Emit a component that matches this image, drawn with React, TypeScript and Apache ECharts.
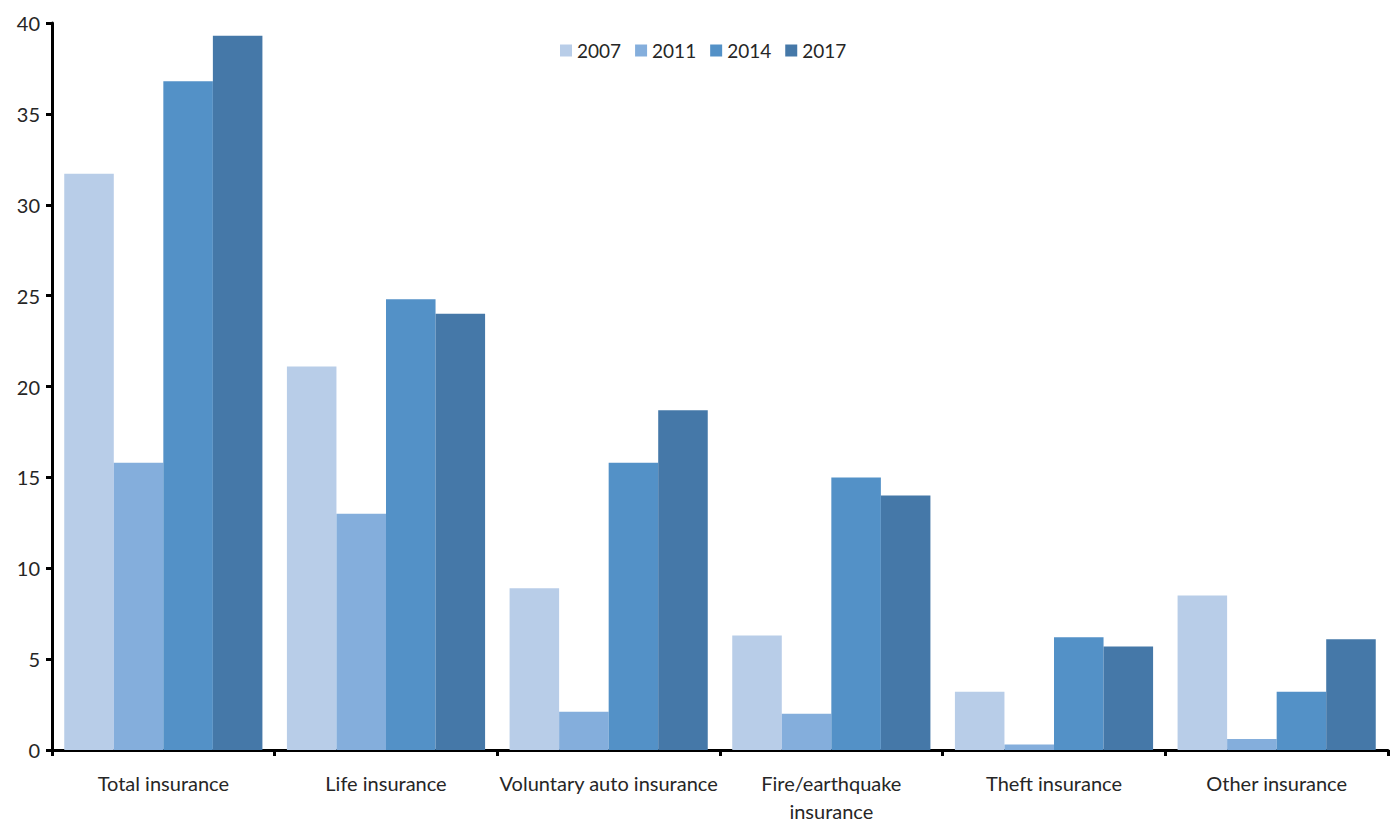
import React, { useEffect, useRef } from "react";
import * as echarts from "echarts";

// Share of households holding each type of insurance, by survey year
const categories = [
  "Total insurance",
  "Life insurance",
  "Voluntary auto insurance",
  "Fire/earthquake\ninsurance",
  "Theft insurance",
  "Other insurance",
];
const years = ["2007", "2011", "2014", "2017"];
const values2007 = [31.7, 21.1, 8.9, 6.3, 3.2, 8.5];
const values2011 = [15.8, 13.0, 2.1, 2.0, 0.3, 0.6];
const values2014 = [36.8, 24.8, 15.8, 15.0, 6.2, 3.2];
const values2017 = [39.3, 24.0, 18.7, 14.0, 5.7, 6.1];
const yTicks = [0, 5, 10, 15, 20, 25, 30, 35, 40];

const colors = ["#B8CDE8", "#84AEDC", "#5391C7", "#4578A8"];
const seriesValues = [values2007, values2011, values2014, values2017];
const FONT = "Lato, 'Open Sans', sans-serif";

export default function App() {
  const ref = useRef<HTMLDivElement>(null);

  useEffect(() => {
    if (!ref.current) return;
    const chart = echarts.init(ref.current, null, { renderer: "svg" });
    chart.setOption({
      animation: false,
      backgroundColor: "#ffffff",
      textStyle: { fontFamily: FONT },
      legend: {
        top: 36,
        left: 555,
        itemWidth: 12,
        itemHeight: 12,
        itemGap: 14,
        icon: "rect",
        textStyle: { fontSize: 19, color: "#262626", fontFamily: FONT },
        data: years,
      },
      grid: { left: 52, right: 7, top: 23, bottom: 71, containLabel: false },
      xAxis: {
        type: "category",
        data: categories,
        boundaryGap: true,
        axisLine: { show: true, lineStyle: { color: "#000", width: 3 } },
        axisTick: { show: true, length: 6, lineStyle: { color: "#000", width: 3 } },
        axisLabel: {
          color: "#262626",
          fontSize: 20,
          margin: 19,
          lineHeight: 28,
          interval: 0,
          fontFamily: FONT,
        },
        splitLine: { show: false },
      },
      yAxis: {
        type: "value",
        min: yTicks[0],
        max: yTicks[yTicks.length - 1],
        interval: yTicks[1] - yTicks[0],
        axisLine: { show: true, lineStyle: { color: "#000", width: 3 } },
        axisTick: { show: true, length: 6, lineStyle: { color: "#000", width: 3 } },
        axisLabel: { color: "#262626", fontSize: 20, margin: 12, fontFamily: FONT },
        splitLine: { show: false },
      },
      series: years.map((y, i) => ({
        name: y,
        type: "bar",
        data: seriesValues[i],
        barGap: "0%",
        barCategoryGap: "11%",
        itemStyle: { color: colors[i] },
      })),
    });
    return () => chart.dispose();
  }, []);

  return (
    <div
      ref={ref}
      style={{ position: "fixed", left: 0, top: 0, width: 1395, height: 825, background: "#fff" }}
    />
  );
}
